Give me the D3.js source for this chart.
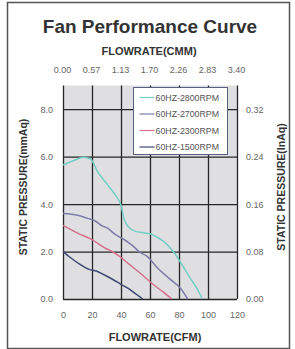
<!DOCTYPE html>
<html>
<head>
<meta charset="utf-8">
<script src="https://cdn.jsdelivr.net/npm/d3@7"></script>
<style>
  body { margin: 0; background: #fff; }
  svg text { font-family: "Liberation Sans", Arial, sans-serif; }
  .grid line { stroke: #262626; stroke-width: 1.3; }
  .grid path { display: none; }
  .ax path, .ax line { display: none; }
  .ax text { fill: #666; font-size: 9px; }
</style>
</head>
<body>
<div id="viz"></div>
<script>
// flowrate ticks (CFM) and matching CMM labels on top
var cfmTicks = [0, 20, 40, 60, 80, 100, 120];
var cmmLabels = ["0.00", "0.57", "1.13", "1.70", "2.26", "2.83", "3.40"];
var mmTicks = [0, 2, 4, 6, 8];
var inTicks = [0, 0.08, 0.16, 0.24, 0.32];

var seriesNames = ["60HZ-2800RPM", "60HZ-2700RPM", "60HZ-2300RPM", "60HZ-1500RPM"];
var seriesColors = ["#72cfc2", "#7d7ca8", "#d4708b", "#3f4872"];

// [CFM, mmAq]
var rpm2800 = [[0,5.65],[8,5.85],[14,5.98],[19,5.9],[24,5.35],[31,4.8],[37,4.3],[40,3.95],[42,3.4],[45,3.05],[50,2.85],[55,2.8],[60,2.75],[65,2.6],[70,2.4],[76,2.0],[81,1.55],[87,0.95],[93,0.38],[96,0]];
var rpm2700 = [[0,3.6],[10,3.53],[17,3.4],[22,3.3],[27,3.08],[31,2.98],[36,2.72],[41,2.55],[48,2.25],[53,1.97],[58,1.8],[65,1.32],[73,0.88],[81,0.45],[86,0]];
var rpm2300 = [[0,3.1],[10,2.78],[20,2.5],[29,2.15],[34,2.0],[39,1.8],[44,1.55],[48,1.35],[55,1.0],[62,0.62],[69,0.3],[75,0]];
var rpm1500 = [[0,2.0],[5,1.75],[12,1.45],[18,1.25],[23,1.18],[29,1.0],[35,0.8],[40,0.62],[45,0.45],[51,0.18],[55,0]];
var allSeries = [rpm2800, rpm2700, rpm2300, rpm1500];

var W = 295, H = 349;
var svg = d3.select("#viz").append("svg")
    .attr("width", W)
    .attr("height", H);

// outer frame
svg.append("rect")
    .attr("x", 7.5).attr("y", 2.5)
    .attr("width", 282).attr("height", 346)
    .attr("fill", "#fff")
    .attr("stroke", "#555")
    .attr("stroke-width", 1.5);

var x = d3.scaleLinear().domain([0, 120]).range([63, 237]);
var y = d3.scaleLinear().domain([0, 9]).range([299, 85.5]);
var yIn = d3.scaleLinear().domain([0, 0.36]).range([299, 85.5]);

// plot background
svg.append("rect")
    .attr("x", x(0)).attr("y", y(9))
    .attr("width", x(120) - x(0)).attr("height", y(0) - y(9))
    .attr("fill", "#dfdfe2");

// grid
svg.append("g")
    .attr("class", "grid")
    .attr("transform", "translate(0," + y(0) + ")")
    .call(d3.axisBottom(x).tickValues(cfmTicks).tickSize(-(y(0) - y(9))).tickFormat(""));
svg.append("g")
    .attr("class", "grid")
    .attr("transform", "translate(" + x(0) + ",0)")
    .call(d3.axisLeft(y).tickValues(mmTicks).tickSize(-(x(120) - x(0))).tickFormat(""));

// curves
var line = d3.line()
    .x(function(d) { return x(d[0]); })
    .y(function(d) { return y(d[1]); })
    .curve(d3.curveMonotoneX);

svg.append("g").selectAll("path")
    .data(allSeries).enter()
    .append("path")
    .attr("d", line)
    .attr("fill", "none")
    .attr("stroke", function(d, i) { return seriesColors[i]; })
    .attr("stroke-width", 1.5);

// legend
var lg = svg.append("g").attr("transform", "translate(133.5,87.5)");
lg.append("rect")
    .attr("width", 94).attr("height", 67)
    .attr("fill", "#fff")
    .attr("stroke", "#5a5f80")
    .attr("stroke-width", 1);
seriesNames.forEach(function(name, i) {
    var yy = 10 + i * 16.5;
    lg.append("line")
        .attr("x1", 6).attr("x2", 21)
        .attr("y1", yy).attr("y2", yy)
        .attr("stroke", seriesColors[i])
        .attr("stroke-width", 1.2);
    lg.append("text")
        .attr("x", 22).attr("y", yy + 3)
        .attr("font-size", "8.8px")
        .attr("fill", "#555")
        .text(name);
});

// axes labels
svg.append("g")
    .attr("class", "ax")
    .attr("transform", "translate(0,309)")
    .call(d3.axisBottom(x).tickValues(cfmTicks).tickSize(0).tickPadding(3).tickFormat(d3.format("d")));

svg.append("g")
    .attr("class", "ax")
    .attr("transform", "translate(-1,73)")
    .call(d3.axisTop(x).tickValues(cfmTicks).tickSize(0).tickPadding(0)
        .tickFormat(function(d, i) { return cmmLabels[i]; }));

svg.append("g")
    .attr("class", "ax")
    .attr("transform", "translate(53,0)")
    .call(d3.axisLeft(y).tickValues(mmTicks).tickSize(0).tickPadding(0).tickFormat(d3.format(".1f")));

svg.append("g")
    .attr("class", "ax")
    .attr("transform", "translate(246,0)")
    .call(d3.axisRight(yIn).tickValues(inTicks).tickSize(0).tickPadding(0).tickFormat(d3.format(".2f")));

// titles
svg.append("text")
    .attr("x", 150).attr("y", 33)
    .attr("text-anchor", "middle")
    .attr("font-size", "19px")
    .attr("font-weight", "bold")
    .attr("fill", "#333")
    .text("Fan Performance Curve");

svg.append("text")
    .attr("x", 149).attr("y", 55)
    .attr("text-anchor", "middle")
    .attr("font-size", "11px")
    .attr("font-weight", "bold")
    .attr("fill", "#333")
    .text("FLOWRATE(CMM)");

svg.append("text")
    .attr("x", 155).attr("y", 341)
    .attr("text-anchor", "middle")
    .attr("font-size", "11px")
    .attr("font-weight", "bold")
    .attr("fill", "#333")
    .text("FLOWRATE(CFM)");

svg.append("text")
    .attr("transform", "translate(27,187) rotate(-90)")
    .attr("text-anchor", "middle")
    .attr("font-size", "10.5px")
    .attr("font-weight", "bold")
    .attr("fill", "#333")
    .text("STATIC PRESSURE(mmAq)");

svg.append("text")
    .attr("transform", "translate(285,187) rotate(-90)")
    .attr("text-anchor", "middle")
    .attr("font-size", "10.5px")
    .attr("font-weight", "bold")
    .attr("fill", "#333")
    .text("STATIC PRESSURE(InAq)");
</script>
</body>
</html>
